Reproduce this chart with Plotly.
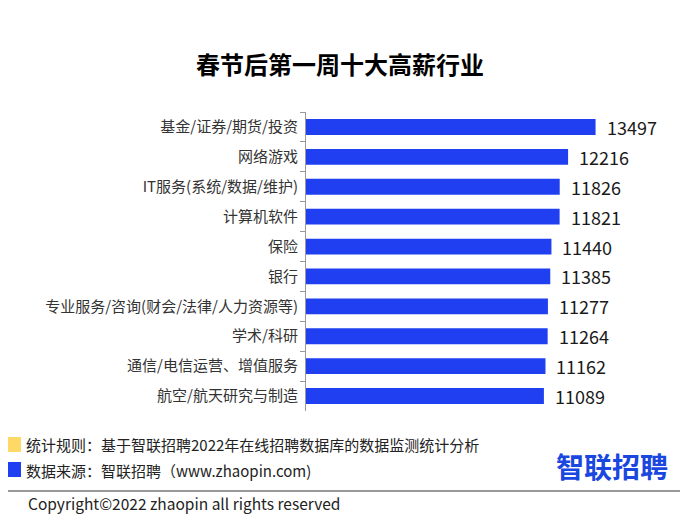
import plotly.graph_objects as go

categories = ["基金/证券/期货/投资", "网络游戏", "IT服务(系统/数据/维护)", "计算机软件", "保险",
              "银行", "专业服务/咨询(财会/法律/人力资源等)", "学术/科研", "通信/电信运营、增值服务", "航空/航天研究与制造"]
values = [13497, 12216, 11826, 11821, 11440, 11385, 11277, 11264, 11162, 11089]

OFF = 8  # page body margin
W, H = 693 - OFF, 521 - OFF
L, R, T, B = 306 - OFF, 660 - OFF, 112 - OFF, 411 - OFF

def fx(px):
    return (px - OFF - L) / (R - L)

def fy(py):
    return (B - (py - OFF)) / (B - T)

FONT = "Noto Sans CJK SC, Microsoft YaHei, sans-serif"
BLUE = "#1f3ff0"

fig = go.Figure(go.Bar(
    x=values, y=categories, orientation="h",
    marker=dict(color=BLUE, line=dict(width=0)),
    hoverinfo="x+y",
))

annotations = []
for c, v in zip(categories, values):
    annotations.append(dict(x=v, y=c, xref="x", yref="y", text=str(v), showarrow=False,
                            xanchor="left", xshift=9, font=dict(size=18, color="#1a1a1a", family=FONT)))

annotations += [
    dict(x=fx(340), y=fy(63), xref="paper", yref="paper", text="<b>春节后第一周十大高薪行业</b>",
         showarrow=False, xanchor="center", yanchor="middle", font=dict(size=24, color="#000", family=FONT)),
    dict(x=fx(24), y=fy(444), xref="paper", yref="paper",
         text="统计规则：基于智联招聘2022年在线招聘数据库的数据监测统计分析",
         showarrow=False, xanchor="left", yanchor="middle", font=dict(size=15, color="#222", family=FONT)),
    dict(x=fx(24), y=fy(470), xref="paper", yref="paper",
         text="数据来源：智联招聘（www.zhaopin.com)",
         showarrow=False, xanchor="left", yanchor="middle", font=dict(size=15, color="#222", family=FONT)),
    dict(x=fx(670), y=fy(466), xref="paper", yref="paper", text="<b>智联招聘</b>",
         showarrow=False, xanchor="right", yanchor="middle", font=dict(size=28, color="#1a47e0", family=FONT)),
    dict(x=fx(26), y=fy(503), xref="paper", yref="paper", text="Copyright©2022 zhaopin all rights reserved",
         showarrow=False, xanchor="left", yanchor="middle", font=dict(size=15.5, color="#222", family=FONT)),
]

shapes = [
    dict(type="rect", xref="paper", yref="paper", x0=fx(8), x1=fx(21), y0=fy(437), y1=fy(452),
         fillcolor="#ffd966", line=dict(width=0)),
    dict(type="rect", xref="paper", yref="paper", x0=fx(8), x1=fx(21), y0=fy(462), y1=fy(477),
         fillcolor=BLUE, line=dict(width=0)),
    dict(type="line", xref="paper", yref="paper", x0=fx(8), x1=fx(680), y0=fy(491), y1=fy(491),
         line=dict(color="#777", width=1.5)),
]

fig.update_layout(
    width=W, height=H,
    margin=dict(l=L, r=W - R, t=T, b=H - B, pad=0),
    paper_bgcolor="white", plot_bgcolor="white",
    bargap=0.47,
    showlegend=False,
    font=dict(family=FONT),
    xaxis=dict(range=[0, 16500], visible=False, fixedrange=True),
    yaxis=dict(autorange="reversed", type="category", showline=True, linecolor="#999", linewidth=1,
               ticks="outside", tickson="boundaries", ticklen=5, tickcolor="#999",
               tickfont=dict(size=15, color="#333", family=FONT), showgrid=False, ticklabelstandoff=4),
    annotations=annotations,
    shapes=shapes,
)

fig.write_html("out.html")
